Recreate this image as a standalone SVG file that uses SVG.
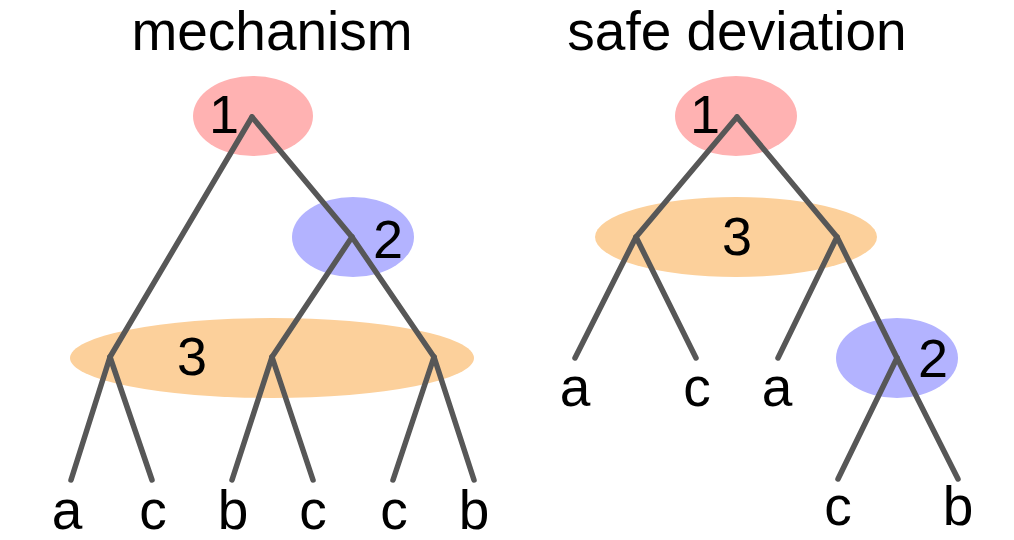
<svg xmlns="http://www.w3.org/2000/svg" width="1014" height="540" viewBox="0 0 1014 540">
<style>
text{font-family:"Liberation Sans",Arial,sans-serif;fill:#000;text-anchor:middle}
.t{font-size:55px}
.n{font-size:54px}
.l{font-size:55px}
.e line{stroke:#575757;stroke-width:5.5;stroke-linecap:round}
.r{fill:#ffb2b2}.b{fill:#b3b3ff}.o{fill:#fcd09b}
</style>
<rect width="1014" height="540" fill="#fff"/>
<text class="t" x="272" y="50">mechanism</text>
<text class="t" x="737" y="50">safe deviation</text>
<g id="left-p1"><ellipse class="r" cx="253" cy="116" rx="60" ry="40"/><text class="n" x="224" y="133">1</text></g>
<g id="left-p2"><ellipse class="b" cx="353" cy="237" rx="61" ry="40"/><text class="n" x="388" y="258">2</text></g>
<g id="left-p3"><ellipse class="o" cx="272" cy="358" rx="202" ry="40"/><text class="n" x="192" y="375">3</text></g>
<g id="right-p1"><ellipse class="r" cx="736" cy="116" rx="61" ry="40"/><text class="n" x="705" y="133">1</text></g>
<g id="right-p3"><ellipse class="o" cx="736" cy="237" rx="141" ry="40"/><text class="n" x="737" y="255">3</text></g>
<g id="right-p2"><ellipse class="b" cx="897" cy="358" rx="61" ry="40"/><text class="n" x="933" y="377">2</text></g>
<g id="connectors" class="e">
<line x1="252" y1="117" x2="110" y2="357"/>
<line x1="252" y1="117" x2="352" y2="237"/>
<line x1="352" y1="237" x2="272" y2="357"/>
<line x1="352" y1="237" x2="434" y2="357"/>
<line x1="110" y1="357" x2="71" y2="480"/>
<line x1="110" y1="357" x2="152" y2="480"/>
<line x1="272" y1="357" x2="232" y2="480"/>
<line x1="272" y1="357" x2="313" y2="480"/>
<line x1="434" y1="357" x2="393" y2="480"/>
<line x1="434" y1="357" x2="474" y2="480"/>
<line x1="737" y1="117" x2="636" y2="237"/>
<line x1="737" y1="117" x2="837" y2="237"/>
<line x1="636" y1="237" x2="575" y2="358"/>
<line x1="636" y1="237" x2="696" y2="358"/>
<line x1="837" y1="237" x2="778" y2="358"/>
<line x1="837" y1="237" x2="897" y2="358"/>
<line x1="897" y1="358" x2="838" y2="479"/>
<line x1="897" y1="358" x2="958" y2="479"/>
</g>
<g id="leaves-left">
<text class="l" x="67" y="529">a</text>
<text class="l" x="153" y="529">c</text>
<text class="l" x="233" y="529">b</text>
<text class="l" x="313" y="529">c</text>
<text class="l" x="394" y="529">c</text>
<text class="l" x="474" y="529">b</text>
</g>
<g id="leaves-right">
<text class="l" x="575" y="406">a</text>
<text class="l" x="697" y="406">c</text>
<text class="l" x="777" y="406">a</text>
<text class="l" x="838" y="525">c</text>
<text class="l" x="958" y="525">b</text>
</g>
</svg>
